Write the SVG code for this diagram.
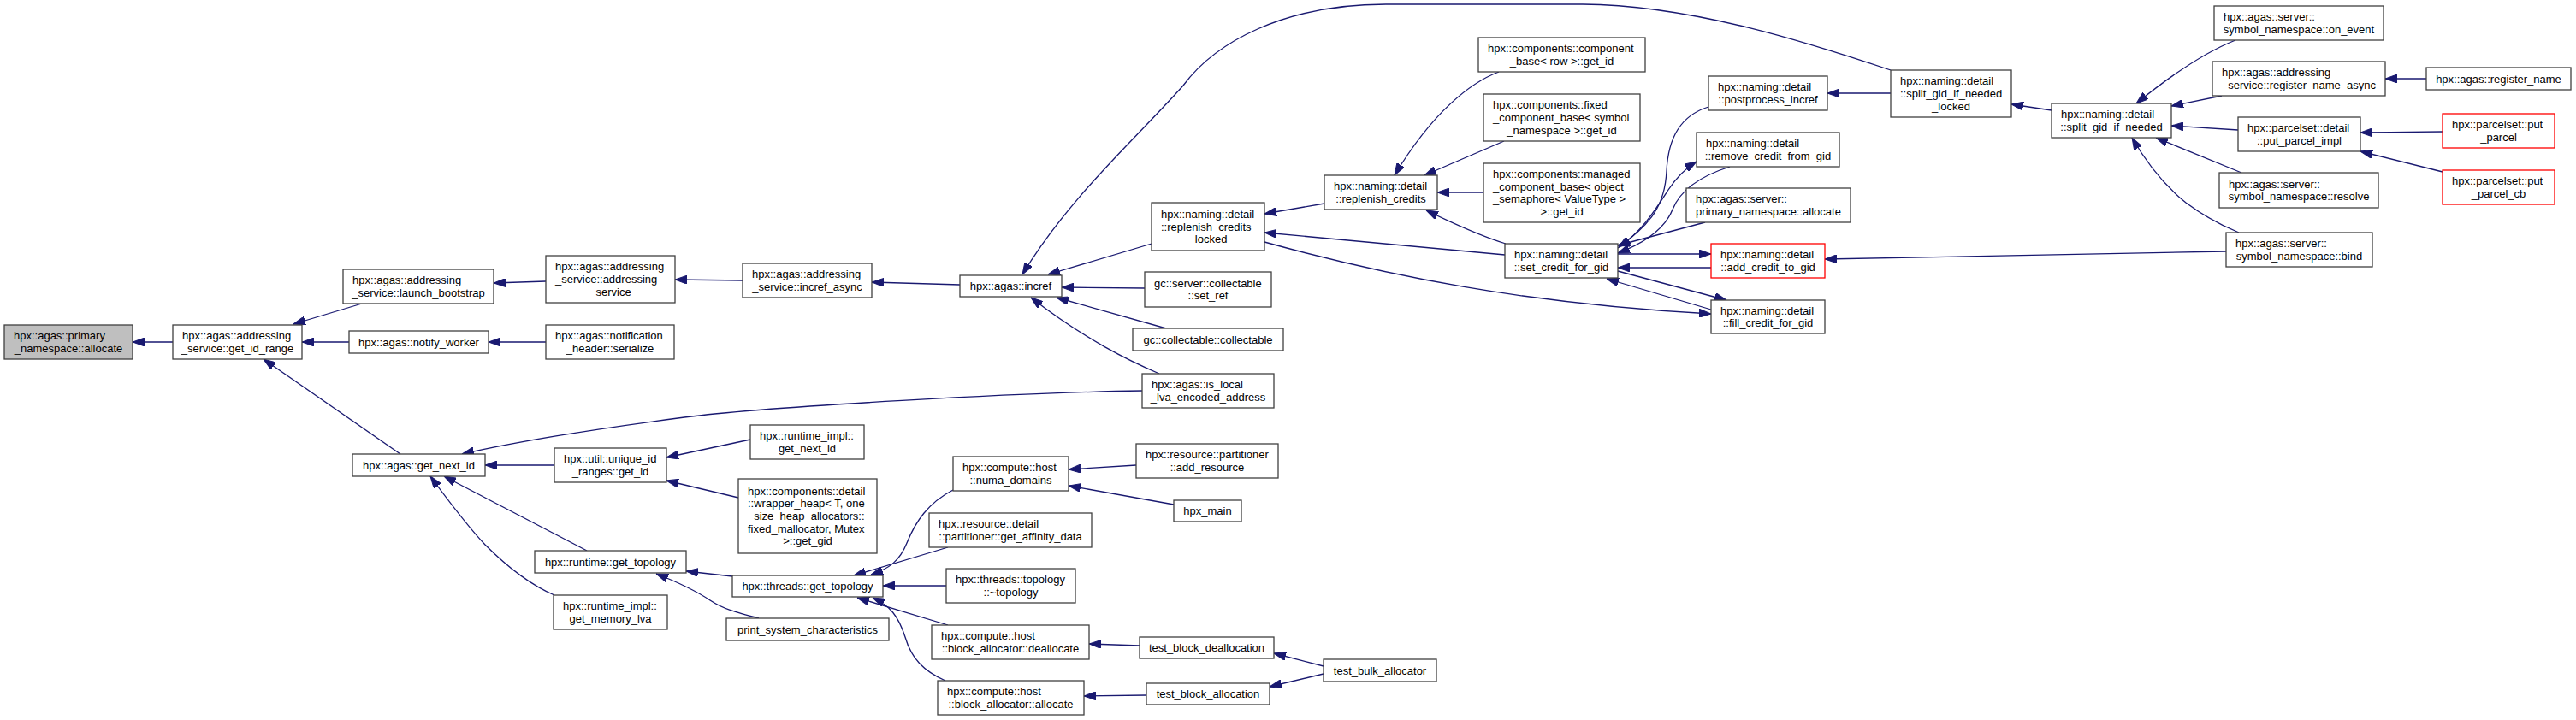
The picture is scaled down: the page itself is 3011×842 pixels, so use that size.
<svg xmlns="http://www.w3.org/2000/svg" width="3011" height="842" viewBox="0 0 3011 842">
<style>
.n rect{fill:#ffffff;stroke:#404040;stroke-width:1.3}
.n.root rect{fill:#bfbfbf}
.n.red rect{stroke:#ff0000}
text{font-family:"Liberation Sans",Arial,sans-serif;font-size:13px;fill:#000}
.l{text-anchor:start}
.c{text-anchor:middle}
#edges path{fill:none;stroke:#191970;stroke-width:1.3;marker-end:url(#ah)}
</style>
<defs>
<marker id="ah" markerUnits="userSpaceOnUse" markerWidth="14" markerHeight="10" viewBox="0 0 14 10" refX="14" refY="5" orient="auto">
<path d="M0,0 L14,5 L0,10 z" fill="#191970" stroke="#191970" stroke-width="1"/>
</marker>
</defs>
<rect x="0" y="0" width="3011" height="842" fill="#ffffff"/>
<g id="edges">
<path d="M202,400 L155,400"/>
<path d="M423,355 L343,379"/>
<path d="M408,400 L353,400"/>
<path d="M468,531 L308,420"/>
<path d="M638,329 L577,331"/>
<path d="M638,400 L571,400"/>
<path d="M868,328 L789,327"/>
<path d="M1122,333 L1019,330"/>
<path d="M1335,457 C1200,459 900,475 800,488 C700,501 610,515 540,531"/>
<path d="M648,544 L567,544"/>
<path d="M686,644 L519,557"/>
<path d="M648,696 C620,684 592,662 567,637 C545,614 520,580 503,557"/>
<path d="M877,514 L779,535"/>
<path d="M863,582 L779,562"/>
<path d="M856,674 L802,668"/>
<path d="M887,723 C860,716 845,712 830,702 C812,690 795,682 767,671"/>
<path d="M1114,573 C1085,588 1070,610 1060,635 C1052,655 1040,665 1018,672"/>
<path d="M1108,640 L998,673"/>
<path d="M1106,685 L1032,685"/>
<path d="M1108,731 L1002,699"/>
<path d="M1105,796 C1080,785 1065,770 1058,745 C1050,720 1040,708 1020,699"/>
<path d="M1328,544 L1249,549"/>
<path d="M1372,590 L1249,568"/>
<path d="M1332,755 L1273,753"/>
<path d="M1340,813 L1267,814"/>
<path d="M1547,779 L1489,764"/>
<path d="M1547,788 L1484,803"/>
<path d="M1346,285 L1225,321"/>
<path d="M1338,337 L1241,336"/>
<path d="M1363,384 L1235,348"/>
<path d="M1355,437 C1320,422 1270,398 1205,348"/>
<path d="M2210,82 C2120,52 1980,6 1850,5 L1620,5 C1500,5 1420,50 1383,100 C1330,160 1250,230 1195,321"/>
<path d="M1548,238 L1478,250"/>
<path d="M1759,298 L1478,272"/>
<path d="M1478,283 C1620,322 1780,355 2000,367"/>
<path d="M1752,84 C1720,96 1675,130 1630,205"/>
<path d="M1758,165 L1665,205"/>
<path d="M1734,225 L1680,225"/>
<path d="M1760,285 C1730,276 1700,262 1667,246"/>
<path d="M1997,125 C1965,135 1950,160 1948,200 C1946,240 1930,262 1892,289"/>
<path d="M1891,290 C1920,270 1935,245 1950,222 C1960,207 1970,197 1983,189"/>
<path d="M2022,195 C1990,205 1965,220 1955,245 C1945,270 1920,285 1891,296"/>
<path d="M1993,260 L1891,287"/>
<path d="M1891,297 L2000,297"/>
<path d="M2000,313 L1891,313"/>
<path d="M1891,317 L2018,351"/>
<path d="M2000,362 L1878,326"/>
<path d="M2602,294 L2133,303"/>
<path d="M2210,109 L2136,109"/>
<path d="M2398,129 L2351,122"/>
<path d="M2613,47 C2585,58 2545,82 2497,121"/>
<path d="M2597,112 L2538,124"/>
<path d="M2616,152 L2538,147"/>
<path d="M2620,202 L2520,161"/>
<path d="M2617,272 C2595,263 2575,252 2555,237 C2530,217 2510,192 2492,161"/>
<path d="M2836,92 L2788,92"/>
<path d="M2855,154 L2759,155"/>
<path d="M2855,201 L2759,177"/>
</g>
<g id="n0" class="n root"><rect x="5" y="380" width="150" height="40"/><text class="l" x="16" y="397">hpx::agas::primary</text><text class="c" x="80" y="412">_namespace::allocate</text></g>
<g id="n1" class="n"><rect x="202" y="380" width="151" height="40"/><text class="l" x="213" y="397">hpx::agas::addressing</text><text class="c" x="277.5" y="412">_service::get_id_range</text></g>
<g id="n2" class="n"><rect x="401" y="315" width="176" height="40"/><text class="l" x="412" y="332">hpx::agas::addressing</text><text class="c" x="489" y="347">_service::launch_bootstrap</text></g>
<g id="n3" class="n"><rect x="408" y="387" width="163" height="26"/><text class="c" x="489.5" y="404.5">hpx::agas::notify_worker</text></g>
<g id="n4" class="n"><rect x="412" y="531" width="155" height="26"/><text class="c" x="489.5" y="548.5">hpx::agas::get_next_id</text></g>
<g id="n5" class="n"><rect x="638" y="299" width="151" height="55"/><text class="l" x="649" y="316.3">hpx::agas::addressing</text><text class="l" x="649" y="331">_service::addressing</text><text class="c" x="713.5" y="345.7">_service</text></g>
<g id="n6" class="n"><rect x="638" y="380" width="150" height="40"/><text class="l" x="649" y="397">hpx::agas::notification</text><text class="c" x="713" y="412">_header::serialize</text></g>
<g id="n7" class="n"><rect x="648" y="524" width="131" height="40"/><text class="l" x="659" y="541">hpx::util::unique_id</text><text class="c" x="713.5" y="556">_ranges::get_id</text></g>
<g id="n8" class="n"><rect x="625" y="644" width="177" height="26"/><text class="c" x="713.5" y="661.5">hpx::runtime::get_topology</text></g>
<g id="n9" class="n"><rect x="647" y="696" width="133" height="40"/><text class="l" x="658" y="713">hpx::runtime_impl::</text><text class="c" x="713.5" y="728">get_memory_lva</text></g>
<g id="n10" class="n"><rect x="868" y="308" width="151" height="40"/><text class="l" x="879" y="325">hpx::agas::addressing</text><text class="c" x="943.5" y="340">_service::incref_async</text></g>
<g id="n11" class="n"><rect x="877" y="497" width="133" height="40"/><text class="l" x="888" y="514">hpx::runtime_impl::</text><text class="c" x="943.5" y="529">get_next_id</text></g>
<g id="n12" class="n"><rect x="863" y="560" width="162" height="87"/><text class="l" x="874" y="578.6">hpx::components::detail</text><text class="l" x="874" y="593.3">::wrapper_heap&lt; T, one</text><text class="l" x="874" y="608">_size_heap_allocators::</text><text class="l" x="874" y="622.7">fixed_mallocator, Mutex</text><text class="c" x="944" y="637.4">&gt;::get_gid</text></g>
<g id="n13" class="n"><rect x="856" y="673" width="176" height="25"/><text class="c" x="944" y="690">hpx::threads::get_topology</text></g>
<g id="n14" class="n"><rect x="849" y="723" width="190" height="26"/><text class="c" x="944" y="740.5">print_system_characteristics</text></g>
<g id="n15" class="n"><rect x="1122" y="322" width="119" height="25"/><text class="c" x="1181.5" y="339">hpx::agas::incref</text></g>
<g id="n16" class="n"><rect x="1114" y="534" width="135" height="40"/><text class="l" x="1125" y="551">hpx::compute::host</text><text class="c" x="1181.5" y="566">::numa_domains</text></g>
<g id="n17" class="n"><rect x="1086" y="600" width="190" height="40"/><text class="l" x="1097" y="617">hpx::resource::detail</text><text class="c" x="1181" y="632">::partitioner::get_affinity_data</text></g>
<g id="n18" class="n"><rect x="1106" y="665" width="151" height="40"/><text class="l" x="1117" y="682">hpx::threads::topology</text><text class="c" x="1181.5" y="697">::~topology</text></g>
<g id="n19" class="n"><rect x="1089" y="731" width="184" height="40"/><text class="l" x="1100" y="748">hpx::compute::host</text><text class="c" x="1181" y="763">::block_allocator::deallocate</text></g>
<g id="n20" class="n"><rect x="1096" y="796" width="171" height="40"/><text class="l" x="1107" y="813">hpx::compute::host</text><text class="c" x="1181.5" y="828">::block_allocator::allocate</text></g>
<g id="n21" class="n"><rect x="1346" y="237" width="132" height="56"/><text class="l" x="1357" y="254.8">hpx::naming::detail</text><text class="l" x="1357" y="269.5">::replenish_credits</text><text class="c" x="1412" y="284.2">_locked</text></g>
<g id="n22" class="n"><rect x="1338" y="318" width="148" height="41"/><text class="l" x="1349" y="335.6">gc::server::collectable</text><text class="c" x="1412" y="350.3">::set_ref</text></g>
<g id="n23" class="n"><rect x="1324" y="384" width="176" height="26"/><text class="c" x="1412" y="401.5">gc::collectable::collectable</text></g>
<g id="n24" class="n"><rect x="1335" y="437" width="154" height="40"/><text class="l" x="1346" y="454">hpx::agas::is_local</text><text class="c" x="1412" y="469">_lva_encoded_address</text></g>
<g id="n25" class="n"><rect x="1328" y="519" width="166" height="40"/><text class="l" x="1339" y="536">hpx::resource::partitioner</text><text class="c" x="1411" y="551">::add_resource</text></g>
<g id="n26" class="n"><rect x="1372" y="585" width="79" height="25"/><text class="c" x="1411.5" y="602">hpx_main</text></g>
<g id="n27" class="n"><rect x="1332" y="745" width="157" height="25"/><text class="c" x="1410.5" y="762">test_block_deallocation</text></g>
<g id="n28" class="n"><rect x="1340" y="799" width="144" height="25"/><text class="c" x="1412" y="816">test_block_allocation</text></g>
<g id="n29" class="n"><rect x="1548" y="205" width="132" height="40"/><text class="l" x="1559" y="222">hpx::naming::detail</text><text class="c" x="1614" y="237">::replenish_credits</text></g>
<g id="n30" class="n"><rect x="1547" y="771" width="132" height="26"/><text class="c" x="1613" y="788.5">test_bulk_allocator</text></g>
<g id="n31" class="n"><rect x="1728" y="44" width="195" height="40"/><text class="l" x="1739" y="61">hpx::components::component</text><text class="c" x="1825.5" y="76">_base&lt; row &gt;::get_id</text></g>
<g id="n32" class="n"><rect x="1734" y="110" width="183" height="55"/><text class="l" x="1745" y="127.3">hpx::components::fixed</text><text class="l" x="1745" y="142">_component_base&lt; symbol</text><text class="c" x="1825.5" y="156.7">_namespace &gt;::get_id</text></g>
<g id="n33" class="n"><rect x="1734" y="191" width="183" height="69"/><text class="l" x="1745" y="208">hpx::components::managed</text><text class="l" x="1745" y="222.7">_component_base&lt; object</text><text class="l" x="1745" y="237.4">_semaphore&lt; ValueType &gt;</text><text class="c" x="1825.5" y="252">&gt;::get_id</text></g>
<g id="n34" class="n"><rect x="1759" y="285" width="132" height="40"/><text class="l" x="1770" y="302">hpx::naming::detail</text><text class="c" x="1825" y="317">::set_credit_for_gid</text></g>
<g id="n35" class="n"><rect x="1997" y="89" width="139" height="40"/><text class="l" x="2008" y="106">hpx::naming::detail</text><text class="c" x="2066.5" y="121">::postprocess_incref</text></g>
<g id="n36" class="n"><rect x="1983" y="155" width="167" height="40"/><text class="l" x="1994" y="172">hpx::naming::detail</text><text class="c" x="2066.5" y="187">::remove_credit_from_gid</text></g>
<g id="n37" class="n"><rect x="1971" y="220" width="192" height="40"/><text class="l" x="1982" y="237">hpx::agas::server::</text><text class="c" x="2067" y="252">primary_namespace::allocate</text></g>
<g id="n38" class="n red"><rect x="2000" y="285" width="133" height="40"/><text class="l" x="2011" y="302">hpx::naming::detail</text><text class="c" x="2066.5" y="317">::add_credit_to_gid</text></g>
<g id="n39" class="n"><rect x="2000" y="351" width="133" height="39"/><text class="l" x="2011" y="367.6">hpx::naming::detail</text><text class="c" x="2066.5" y="382.3">::fill_credit_for_gid</text></g>
<g id="n40" class="n"><rect x="2210" y="82" width="141" height="55"/><text class="l" x="2221" y="99.3">hpx::naming::detail</text><text class="l" x="2221" y="114">::split_gid_if_needed</text><text class="c" x="2280.5" y="128.7">_locked</text></g>
<g id="n41" class="n"><rect x="2398" y="121" width="140" height="40"/><text class="l" x="2409" y="138">hpx::naming::detail</text><text class="c" x="2468" y="153">::split_gid_if_needed</text></g>
<g id="n42" class="n"><rect x="2588" y="7" width="198" height="40"/><text class="l" x="2599" y="24">hpx::agas::server::</text><text class="c" x="2687" y="39">symbol_namespace::on_event</text></g>
<g id="n43" class="n"><rect x="2586" y="72" width="202" height="40"/><text class="l" x="2597" y="89">hpx::agas::addressing</text><text class="c" x="2687" y="104">_service::register_name_async</text></g>
<g id="n44" class="n"><rect x="2616" y="137" width="143" height="40"/><text class="l" x="2627" y="154">hpx::parcelset::detail</text><text class="c" x="2687.5" y="169">::put_parcel_impl</text></g>
<g id="n45" class="n"><rect x="2594" y="202" width="186" height="41"/><text class="l" x="2605" y="219.6">hpx::agas::server::</text><text class="c" x="2687" y="234.3">symbol_namespace::resolve</text></g>
<g id="n46" class="n"><rect x="2602" y="272" width="171" height="40"/><text class="l" x="2613" y="289">hpx::agas::server::</text><text class="c" x="2687.5" y="304">symbol_namespace::bind</text></g>
<g id="n47" class="n"><rect x="2836" y="79" width="169" height="26"/><text class="c" x="2920.5" y="96.5">hpx::agas::register_name</text></g>
<g id="n48" class="n red"><rect x="2855" y="133" width="131" height="40"/><text class="l" x="2866" y="150">hpx::parcelset::put</text><text class="c" x="2920.5" y="165">_parcel</text></g>
<g id="n49" class="n red"><rect x="2855" y="199" width="131" height="40"/><text class="l" x="2866" y="216">hpx::parcelset::put</text><text class="c" x="2920.5" y="231">_parcel_cb</text></g>
</svg>
